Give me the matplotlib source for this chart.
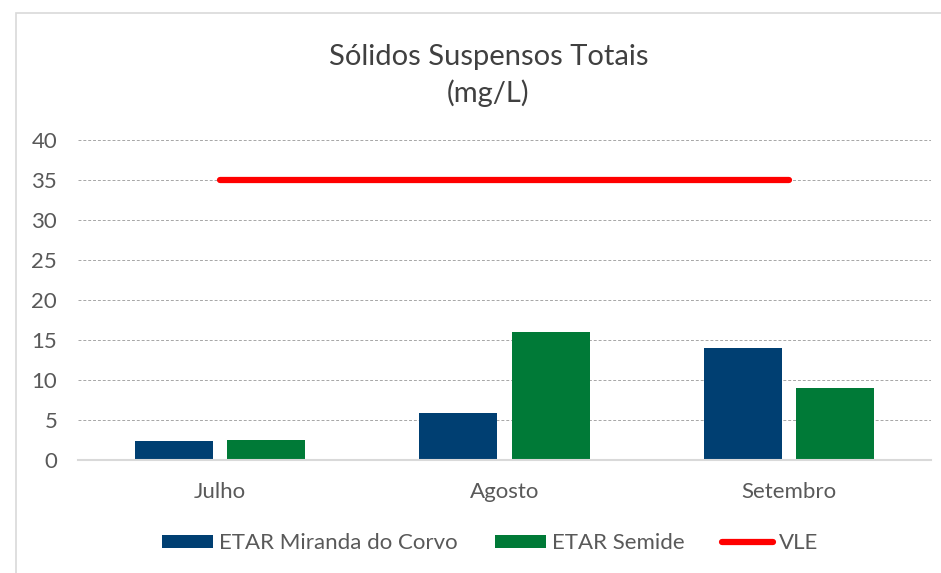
import numpy as np
import matplotlib.pyplot as plt
from matplotlib.patches import Rectangle

# data
months = ['Julho', 'Agosto', 'Setembro']
miranda = [2.4, 5.9, 14.0]
semide = [2.5, 16.0, 9.0]
vle = [35, 35, 35]

blue = '#003f72'
green = '#007a37'
text_col = '#595959'

plt.rcParams['font.family'] = ['Lato', 'DejaVu Sans']

fig = plt.figure(figsize=(9.41, 5.73), dpi=100)
ax = fig.add_axes([0.0829, 0.1972, 0.9065, 0.5585])

x = np.arange(len(months))
w = 0.275
b1 = ax.bar(x - 0.1625, miranda, w, color=blue, label='ETAR Miranda do Corvo', zorder=3)
b2 = ax.bar(x + 0.1625, semide, w, color=green, label='ETAR Semide', zorder=3)
l1, = ax.plot(x, vle, color='#ff0000', lw=4.5, solid_capstyle='round', label='VLE', zorder=4)

ax.set_xlim(-0.5, 2.5)
ax.set_ylim(0, 40)
ax.set_yticks(range(0, 41, 5))
ax.set_xticks(x)
ax.set_xticklabels(months)
ax.grid(axis='y', color='#a6a6a6', ls=(0, (3, 2)), lw=0.7, zorder=0)
for s in ['top', 'right', 'left']:
    ax.spines[s].set_visible(False)
ax.spines['bottom'].set_color('#d9d9d9')
ax.spines['bottom'].set_linewidth(1.5)
ax.spines['bottom'].set_zorder(5)
ax.tick_params(length=0, labelsize=16, colors=text_col)
ax.tick_params(axis='y', pad=15)
ax.tick_params(axis='x', pad=16)

# the chart box is a bit wider than the crop, so its centre sits right of the middle
cx = 0.519
fig.text(cx, 0.90, 'Sólidos Suspensos Totais', ha='center', va='center',
         fontsize=21, color='#404040')
fig.text(cx, 0.838, '(mg/L)', ha='center', va='center', fontsize=21, color='#404040')

fig.legend([b1, b2, l1], ['ETAR Miranda do Corvo', 'ETAR Semide', 'VLE'],
           loc='center', bbox_to_anchor=(cx + 0.002, 0.052), ncol=3,
           frameon=False, fontsize=16, labelcolor=text_col, handlelength=2.3,
           handleheight=0.55, handletextpad=0.25, columnspacing=1.7)

# outer chart border (only top/left visible in the crop)
fig.add_artist(Rectangle((16 / 941, -0.1), 1.2, 1.1 - 13 / 573, transform=fig.transFigure,
                         fill=False, edgecolor='#d9d9d9', lw=1.2))

fig.savefig('out.png', dpi=100, facecolor='white')
